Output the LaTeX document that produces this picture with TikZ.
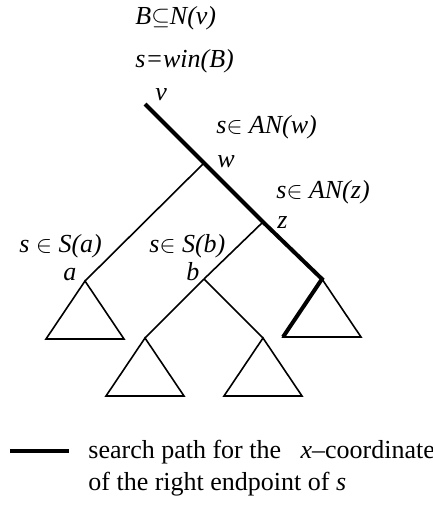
\documentclass[tikz,border=0pt]{standalone}
\usepackage{fontspec}
\setmainfont{Liberation Serif}
\usetikzlibrary{positioning}

\begin{document}
\begin{tikzpicture}[x=0.5pt, y=-0.5pt,
    edge/.style={line width=0.8pt},
    search/.style={line width=2pt, line join=miter},
    lbl/.style={inner sep=0pt, anchor=base west,
                font=\fontsize{13}{16}\selectfont\itshape},
    legendtext/.style={inner sep=0pt, anchor=base west, align=left,
                font=\fontsize{13}{16}\selectfont}
  ]
    \useasboundingbox (0,0) rectangle (433,505);
    % tree nodes
    \coordinate (v) at (145,104);
    \coordinate (w) at (204,163);
    \coordinate (z) at (263,222);
    \coordinate (r) at (322,279);
    \coordinate (a) at (85,281);
    \coordinate (b) at (204,279);
    \coordinate (bl) at (145,338);
    \coordinate (br) at (263,338);
    \draw[edge] (w) -- (a);
    \draw[edge] (z) -- (b);
    \draw[edge] (b) -- (bl);
    \draw[edge] (b) -- (br);
    \foreach \t in {a,bl,br,r}
      \draw[edge] (\t) -- ++(-39,58) -- ++(78,0) -- cycle;
    \draw[search] (v) -- (w) -- (z) -- (r) -- ++(-39,58);
    % labels
    \node[lbl] (cond) at (135,24) {B$\subseteq$N(v)};
    \node[lbl] (win) at (135,67) {s=win(B)};
    \node[lbl] (lv) at (155,100) {v};
    \node[lbl] (anw) at (216,133) {s$\in$ AN(w)};
    \node[lbl] (lw) at (217,167) {w};
    \node[lbl] (anz) at (276,198) {s$\in$ AN(z)};
    \node[lbl] (lz) at (277,228) {z};
    \node[lbl] (sa) at (19,252) {s $\in$ S(a)};
    \node[lbl] (sb) at (149,252) {s$\in$ S(b)};
    \node[lbl] (la) at (63,280) {a};
    \node[lbl] (lb) at (186,280) {b};
    % legend
    \coordinate (key1) at (10,451);
    \coordinate (key2) at (69,451);
    \draw[search] (key1) -- (key2);
    \node[legendtext] (legend) at (88,490)
      {search path for the \ \ \textit{x}--coordinate\\of the right endpoint of \textit{s}};
  \end{tikzpicture}
\end{document}
